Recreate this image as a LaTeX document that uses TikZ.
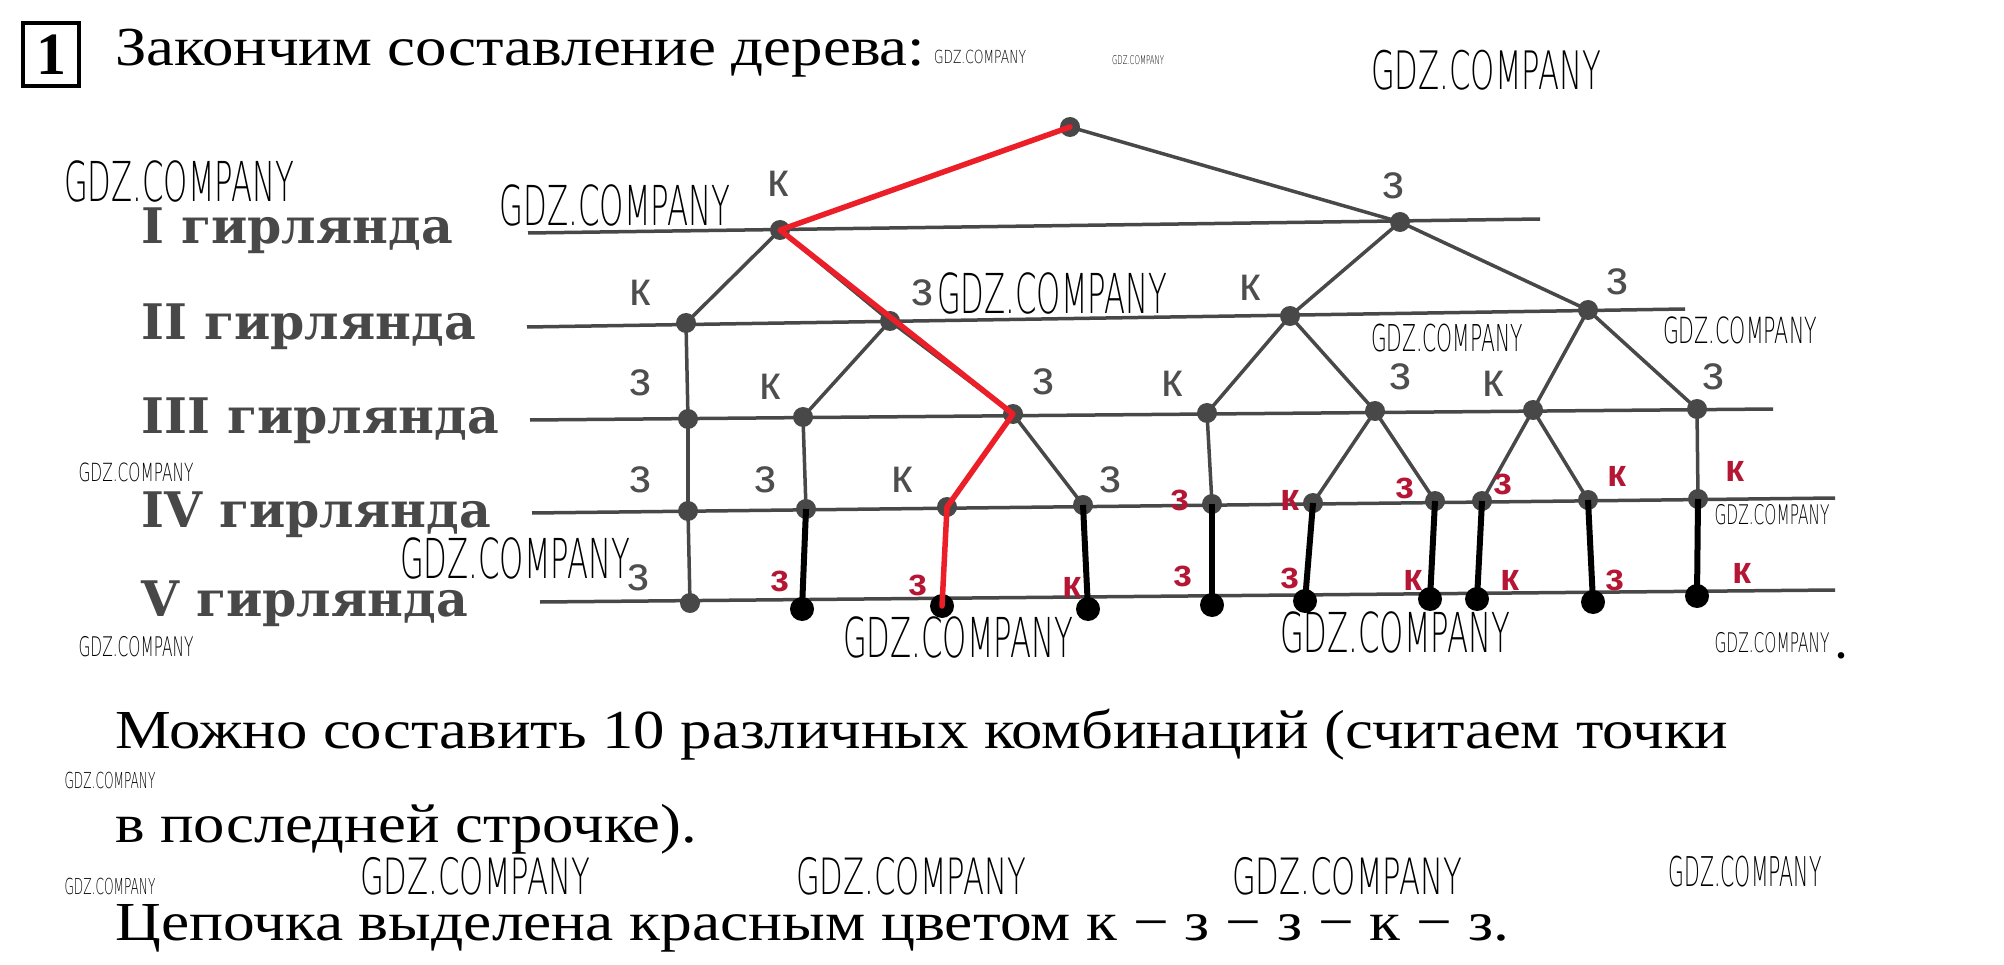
\documentclass[tikz,border=0pt]{standalone}
\usepackage{fontspec}
\usepackage{graphicx}
\setmainfont{Liberation Serif}
\newfontfamily\lvlfont{DejaVu Serif}
\newfontfamily\lblfont{Liberation Sans}
\newfontfamily\wmfont{DejaVu Sans ExtraLight}

\pgfdeclarelayer{bg}
\pgfdeclarelayer{fg}
\pgfsetlayers{bg,main,fg}

\definecolor{tgrey}{RGB}{72,72,72}
\definecolor{lgrey}{RGB}{78,78,78}
\definecolor{lvlc}{RGB}{72,72,72}
\definecolor{tred}{RGB}{236,30,40}
\definecolor{rlab}{RGB}{180,22,52}

\newsavebox\fitbox
\newcommand\fitto[2]{\sbox\fitbox{#2}\pgfmathsetmacro\fitratio{#1/\the\wd\fitbox}\scalebox{\fitratio}[1]{\usebox\fitbox}}
\newcommand\wmk[5]{\node[wm] (#1) at (#2,#3) {\fontsize{#5}{#5}\selectfont\fitto{#4}{GDZ.COMPANY}};}

\begin{document}
\begin{tikzpicture}[x=1pt,y=-1pt,
  lvl/.style={line width=3.5pt, draw=tgrey},
  tline/.style={line width=3.5pt, draw=tgrey, line cap=round},
  redln/.style={line width=5.5pt, draw=tred, line cap=round, line join=round},
  blk/.style={line width=6pt, draw=black},
  gdot/.style={circle, fill=tgrey, inner sep=0pt, minimum size=20pt},
  bdot/.style={circle, fill=black, inner sep=0pt, minimum size=24pt},
  glbl/.style={font=\lblfont\fontsize{48}{48}\selectfont, text=lgrey, inner sep=0pt},
  rlbl/.style={font=\lblfont\bfseries\fontsize{38}{38}\selectfont, text=rlab, inner sep=0pt},
  lvltxt/.style={font=\lvlfont\bfseries\fontsize{49}{49}\selectfont, text=lvlc, anchor=base west, inner sep=0pt},
  maintxt/.style={font=\fontsize{55}{60}\selectfont, anchor=base west, inner sep=0pt},
  wm/.style={font=\wmfont, inner sep=0pt}]
\useasboundingbox (0,0) rectangle (2004,965);
\begin{pgfonlayer}{bg}
\fill[white] (0,0) rectangle (2004,965);
\end{pgfonlayer}

% header
\node[draw, line width=4.5pt, minimum width=56pt, minimum height=63pt, inner sep=0pt,
  font=\bfseries\fontsize{60}{60}\selectfont] (numbox) at (51,54.5) {1};
\node[maintxt] (title) at (115,66) {\fitto{810}{Закончим составление дерева:}};

% level captions
\node[lvltxt] (lv1) at (141,244) {I гирлянда};
\node[lvltxt] (lv2) at (141,340) {II гирлянда};
\node[lvltxt] (lv3) at (141,433) {III гирлянда};
\node[lvltxt] (lv4) at (141,527) {IV гирлянда};
\node[lvltxt] (lv5) at (141,616) {V гирлянда};

% level lines
\coordinate (L1a) at (528,233); \coordinate (L1b) at (1540,219);
\coordinate (L2a) at (527,327); \coordinate (L2b) at (1685,309);
\coordinate (L3a) at (530,420); \coordinate (L3b) at (1773,409);
\coordinate (L4a) at (532,513); \coordinate (L4b) at (1835,498);
\coordinate (L5a) at (540,602); \coordinate (L5b) at (1835,590);

% tree nodes
\node[gdot] (R) at (1070,127) {};
\node[gdot] (a1) at (780,230) {};
\node[gdot] (a2) at (1400,222) {};
\node[gdot] (b1) at (686,323) {};
\node[gdot] (b2) at (890,321) {};
\node[gdot] (b3) at (1290,316) {};
\node[gdot] (b4) at (1588,310) {};
\node[gdot] (c1) at (688,419) {};
\node[gdot] (c2) at (803,417) {};
\node[gdot] (c3) at (1013,414) {};
\node[gdot] (c4) at (1207,413) {};
\node[gdot] (c5) at (1375,411) {};
\node[gdot] (c6) at (1533,410) {};
\node[gdot] (c7) at (1697,409) {};
\node[gdot] (d1) at (688,511) {};
\node[gdot] (d2) at (806,509) {};
\node[gdot] (d3) at (947,507) {};
\node[gdot] (d4) at (1083,505) {};
\node[gdot] (d5) at (1212,504) {};
\node[gdot] (d6) at (1313,503) {};
\node[gdot] (d7) at (1435,501) {};
\node[gdot] (d8) at (1482,501) {};
\node[gdot] (d9) at (1588,500) {};
\node[gdot] (d10) at (1698,499) {};
\node[gdot] (e1) at (690,603) {};
\node[bdot] (e2) at (802,609) {};
\node[bdot] (e3) at (942,606) {};
\node[bdot] (e4) at (1088,609) {};
\node[bdot] (e5) at (1212,605) {};
\node[bdot] (e6) at (1305,601) {};
\node[bdot] (e7) at (1430,599) {};
\node[bdot] (e8) at (1477,599) {};
\node[bdot] (e9) at (1593,602) {};
\node[bdot] (e10) at (1697,596) {};

\begin{pgfonlayer}{bg}
\draw[lvl] (L1a) -- (L1b);
\draw[lvl] (L2a) -- (L2b);
\draw[lvl] (L3a) -- (L3b);
\draw[lvl] (L4a) -- (L4b);
\draw[lvl] (L5a) -- (L5b);
\draw[tline] (R.center) -- (a2.center);
\draw[tline] (a1.center) -- (b1.center);
\draw[tline] (a1.center) -- (b2.center);
\draw[tline] (a2.center) -- (b3.center);
\draw[tline] (a2.center) -- (b4.center);
\draw[tline] (b1.center) -- (c1.center);
\draw[tline] (b2.center) -- (c2.center);
\draw[tline] (b2.center) -- (c3.center);
\draw[tline] (b3.center) -- (c4.center);
\draw[tline] (b3.center) -- (c5.center);
\draw[tline] (b4.center) -- (c6.center);
\draw[tline] (b4.center) -- (c7.center);
\draw[tline] (c1.center) -- (d1.center);
\draw[tline] (c2.center) -- (d2.center);
\draw[tline] (c3.center) -- (d4.center);
\draw[tline] (c4.center) -- (d5.center);
\draw[tline] (c5.center) -- (d6.center);
\draw[tline] (c5.center) -- (d7.center);
\draw[tline] (c6.center) -- (d8.center);
\draw[tline] (c6.center) -- (d9.center);
\draw[tline] (c7.center) -- (d10.center);
\draw[tline] (d1.center) -- (e1.center);
\end{pgfonlayer}

\begin{pgfonlayer}{fg}
\draw[blk] (d2.center) -- (e2.center);
\draw[blk] (d4.center) -- (e4.center);
\draw[blk] (d5.center) -- (e5.center);
\draw[blk] (d6.center) -- (e6.center);
\draw[blk] (d7.center) -- (e7.center);
\draw[blk] (d8.center) -- (e8.center);
\draw[blk] (d9.center) -- (e9.center);
\draw[blk] (d10.center) -- (e10.center);
\draw[redln] (R.center) -- (a1.center) -- (c3.center) -- (d3.center) -- (e3.center);
\end{pgfonlayer}

% grey labels
\node[glbl] (la1) at (778,184) {к};
\node[glbl] (la2) at (1393,186) {з};
\node[glbl] (lb1) at (640,293) {к};
\node[glbl] (lb2) at (922,293) {з};
\node[glbl] (lb3) at (1250,288) {к};
\node[glbl] (lb4) at (1617,282) {з};
\node[glbl] (lc1) at (640,383) {з};
\node[glbl] (lc2) at (770,387) {к};
\node[glbl] (lc3) at (1043,382) {з};
\node[glbl] (lc4) at (1172,384) {к};
\node[glbl] (lc5) at (1400,377) {з};
\node[glbl] (lc6) at (1493,384) {к};
\node[glbl] (lc7) at (1713,377) {з};
\node[glbl] (ld1) at (640,480) {з};
\node[glbl] (ld2) at (765,480) {з};
\node[glbl] (ld3) at (902,480) {к};
\node[glbl] (ld4) at (1110,480) {з};
\node[glbl] (le1) at (638,578) {з};
% red labels
\node[rlbl] (ld5) at (1180,500) {з};
\node[rlbl] (ld6) at (1290,500) {к};
\node[rlbl] (ld7) at (1405,488) {з};
\node[rlbl] (ld8) at (1503,484) {з};
\node[rlbl] (ld9) at (1617,476) {к};
\node[rlbl] (ld10) at (1735,471) {к};
\node[rlbl] (le2) at (780,581) {з};
\node[rlbl] (le3) at (918,585) {з};
\node[rlbl] (le4) at (1072,587) {к};
\node[rlbl] (le5) at (1183,576) {з};
\node[rlbl] (le6) at (1290,578) {з};
\node[rlbl] (le7) at (1413,580) {к};
\node[rlbl] (le8) at (1510,580) {к};
\node[rlbl] (le9) at (1615,580) {з};
\node[rlbl] (le10) at (1742,573) {к};

% bottom text
\node[maintxt] (t1) at (115,748) {\fitto{1613}{Можно составить 10 различных комбинаций (считаем точки}};
\node[maintxt] (t2) at (115,842) {\fitto{582}{в последней строчке).}};
\node[maintxt] (t3) at (115,940) {\fitto{1394}{Цепочка выделена красным цветом к − з − з − к − з.}};
\node[maintxt, font=\bfseries\fontsize{40}{40}\selectfont] (dot1) at (1836,658) {.};

% watermarks
\wmk{w1}{980}{57}{92}{18}
\wmk{w2}{1138}{60}{52}{12}
\wmk{w3}{1486}{70}{230}{53}
\wmk{w4}{179}{181}{230}{55}
\wmk{w5}{615}{205}{231}{55}
\wmk{w6}{1052}{293}{230}{55}
\wmk{w7}{1447}{338}{152}{37}
\wmk{w8}{1740}{330}{154}{36}
\wmk{w9}{136}{472}{115}{25}
\wmk{w10}{515}{558}{230}{55}
\wmk{w11}{1772}{515}{115}{27}
\wmk{w12}{958}{637}{230}{55}
\wmk{w13}{1395}{632}{230}{55}
\wmk{w14}{136}{647}{115}{27}
\wmk{w15}{1772}{643}{115}{27}
\wmk{w16}{110}{780}{91}{22}
\wmk{w17}{110}{886}{91}{22}
\wmk{w18}{475}{876}{230}{50}
\wmk{w19}{911}{876}{230}{50}
\wmk{w20}{1347}{876}{230}{50}
\wmk{w21}{1745}{872}{153}{41}
\end{tikzpicture}
\end{document}
